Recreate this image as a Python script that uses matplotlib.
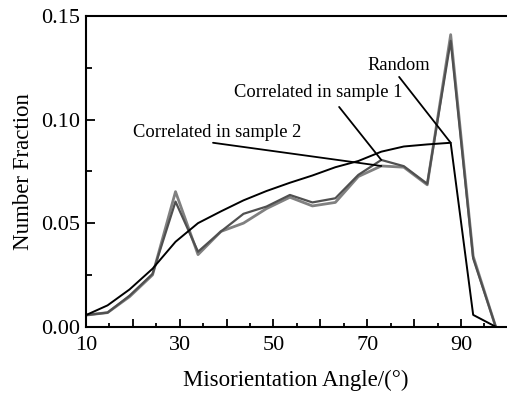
import matplotlib
matplotlib.use('Agg')
import matplotlib.pyplot as plt
from matplotlib.ticker import MultipleLocator, FixedFormatter, FixedLocator

angle = [10.0, 14.6, 19.3, 24.2, 29.1, 33.9, 38.8, 43.6, 48.5, 53.5,
         58.3, 63.2, 68.1, 73.0, 77.8, 82.8, 87.8, 92.6, 97.4]
random_frac = [0.0056, 0.0103, 0.018, 0.028, 0.041, 0.050, 0.0557, 0.061, 0.0655, 0.0695,
               0.073, 0.077, 0.080, 0.0845, 0.087, 0.088, 0.0888, 0.0057, 0.0]
sample1 = [0.0056, 0.0068, 0.015, 0.0255, 0.0604, 0.0362, 0.046, 0.0545, 0.058, 0.0636,
           0.060, 0.062, 0.0733, 0.0805, 0.0775, 0.069, 0.138, 0.033, 0.0]
sample2 = [0.0056, 0.0068, 0.0145, 0.025, 0.0652, 0.0348, 0.046, 0.050, 0.057, 0.0625,
           0.0583, 0.060, 0.0725, 0.0776, 0.077, 0.0685, 0.141, 0.034, 0.0]

# label text, text position, leader start, leader end (data coords)
labels = ['Random', 'Correlated in sample 1', 'Correlated in sample 2']
label_pos = [(76.7, 0.1262), (59.6, 0.1129), (38.0, 0.0936)]
leader_start = [(76.8, 0.1206), (64.0, 0.1061), (37.1, 0.0888)]
leader_end = [(87.8, 0.0888), (73.0, 0.0805), (73.0, 0.0776)]

plt.rcParams['font.family'] = ['Liberation Serif', 'DejaVu Serif']

fig = plt.figure(figsize=(5.07, 3.94), dpi=100)
ax = fig.add_axes([0.1696, 0.1708, 0.8284, 0.7886])

ax.plot(angle, sample2, color='#808080', lw=2.0)
ax.plot(angle, sample1, color='#505050', lw=1.6)
ax.plot(angle, random_frac, color='black', lw=1.4)

ax.set_xlim(10, 99.6)
ax.set_ylim(0, 0.15)

ax.xaxis.set_major_locator(FixedLocator([10, 20, 30, 40, 50, 60, 70, 80, 90]))
ax.xaxis.set_major_formatter(FixedFormatter(['10', '', '30', '', '50', '', '70', '', '90']))
ax.xaxis.set_minor_locator(MultipleLocator(5))
ax.yaxis.set_major_locator(MultipleLocator(0.05))
ax.yaxis.set_minor_locator(MultipleLocator(0.025))
ax.yaxis.set_major_formatter(plt.FuncFormatter(lambda v, p: f'{v:.2f}'))

ax.tick_params(which='both', direction='in', width=1.3, labelsize=16)
ax.tick_params(axis='y', which='major', length=6.5, pad=4)
ax.tick_params(axis='y', which='minor', length=4)
ax.tick_params(axis='x', which='major', length=5.5, pad=7)
ax.tick_params(axis='x', which='minor', length=3)
ax.spines['right'].set_visible(False)
for s in ['left', 'top', 'bottom']:
    ax.spines[s].set_linewidth(1.5)

ax.set_xlabel('Misorientation Angle/(°)', fontsize=16.5, labelpad=10)
ax.set_ylabel('Number Fraction', fontsize=16.5, labelpad=5)

for txt, pos, st, en in zip(labels, label_pos, leader_start, leader_end):
    ax.text(pos[0], pos[1], txt, fontsize=13.3, ha='center', va='center')
    ax.annotate('', xy=en, xytext=st,
                arrowprops=dict(arrowstyle='-', color='black', lw=1.3, shrinkA=0, shrinkB=0))

fig.savefig('out.png', dpi=100)
